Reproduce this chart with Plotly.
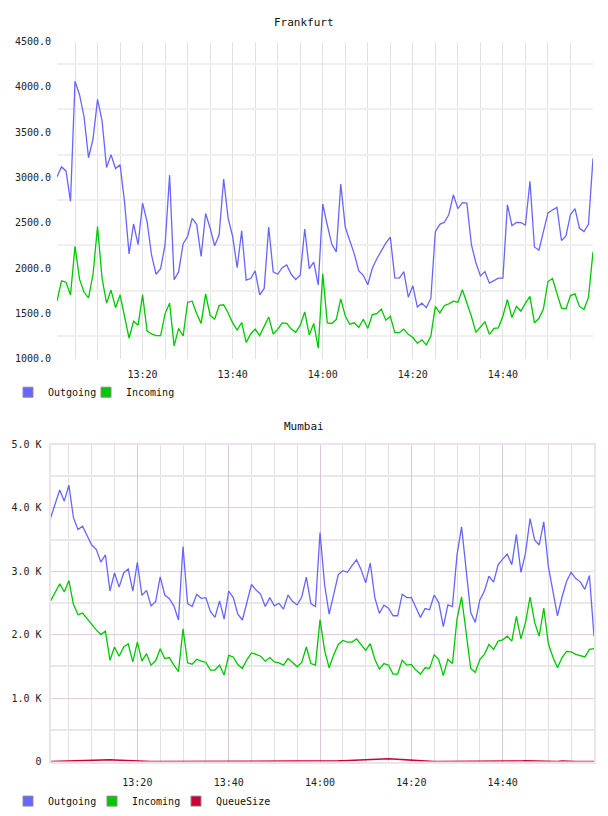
import pandas as pd
import plotly.graph_objects as go

# ---------------- data ----------------
START = "2024-01-01 13:01"
N_POINTS = 120  # one sample per minute, 13:01 .. 15:00

FRA_OUT = [3007, 3116, 3072, 2736, 4062, 3913, 3670, 3217, 3424, 3862,
           3627, 3109, 3250, 3098, 3141, 2728, 2156, 2486, 2257, 2717,
           2511, 2141, 1931, 1993, 2257, 3025, 1870, 1957, 2268, 2348,
           2547, 2482, 2127, 2602, 2439, 2246, 2366, 2982, 2547, 2348,
           2004, 2410, 1866, 1884, 1968, 1703, 1775, 2453, 1957, 1931,
           2004, 2033, 1931, 1873, 1920, 2431, 1993, 2065, 1812, 2705,
           2475, 2264, 2178, 2928, 2450, 2304, 2156, 1968, 1920, 1815,
           1997, 2102, 2192, 2275, 2341, 1891, 1888, 1960, 1678, 1805,
           1569, 1612, 1562, 1667, 2402, 2482, 2504, 2591, 2808, 2656,
           2721, 2717, 2257, 2058, 1913, 1960, 1833, 1859, 1888, 1888,
           2699, 2467, 2504, 2500, 2475, 2957, 2232, 2196, 2413, 2609,
           2641, 2670, 2304, 2355, 2591, 2656, 2439, 2402, 2482, 3210]

FRA_IN = [1634, 1859, 1844, 1703, 2239, 1877, 1732, 1670, 1931, 2457,
          1888, 1612, 1757, 1562, 1703, 1460, 1225, 1413, 1369, 1703,
          1304, 1272, 1254, 1254, 1497, 1612, 1141, 1333, 1250, 1623,
          1634, 1497, 1388, 1714, 1478, 1435, 1587, 1594, 1504, 1395,
          1315, 1399, 1178, 1272, 1326, 1254, 1359, 1460, 1272, 1322,
          1395, 1388, 1326, 1290, 1369, 1515, 1261, 1388, 1116, 1938,
          1395, 1388, 1431, 1660, 1471, 1380, 1395, 1344, 1435, 1333,
          1486, 1497, 1547, 1424, 1467, 1286, 1286, 1326, 1268, 1232,
          1170, 1207, 1152, 1250, 1576, 1504, 1587, 1605, 1634, 1623,
          1761, 1623, 1467, 1290, 1351, 1406, 1268, 1333, 1340, 1471,
          1652, 1453, 1576, 1525, 1612, 1688, 1395, 1442, 1551, 1851,
          1884, 1732, 1558, 1551, 1696, 1714, 1576, 1543, 1678, 2178]

MUM_OUT = [3842, 4065, 4284, 4107, 4361, 3847, 3660, 3712, 3562, 3416,
           3349, 3146, 3261, 2690, 2975, 2752, 2975, 3037, 2690, 3141,
           2622, 2700, 2456, 2523, 2913, 2627, 2570, 2456, 2233, 3390,
           2492, 2446, 2638, 2575, 2586, 2368, 2274, 2534, 2248, 2690,
           2586, 2326, 2233, 2523, 2793, 2705, 2638, 2446, 2586, 2456,
           2497, 2404, 2627, 2523, 2471, 2596, 2908, 2492, 2446, 3614,
           2793, 2326, 2648, 2949, 3011, 2985, 3089, 3183, 3027, 2819,
           3131, 2586, 2337, 2466, 2420, 2300, 2300, 2638, 2586, 2586,
           2430, 2274, 2414, 2394, 2627, 2508, 2129, 2471, 2446, 3261,
           3702, 3027, 2352, 2196, 2549, 2690, 2923, 2830, 3105, 3193,
           3271, 3105, 3583, 2985, 3287, 3832, 3494, 3416, 3780, 3079,
           2690, 2300, 2596, 2845, 2985, 2887, 2835, 2716, 2934, 1978]

MUM_IN = [2534, 2674, 2804, 2674, 2856, 2482, 2316, 2342, 2248, 2155,
          2077, 2004, 2056, 1599, 1807, 1662, 1807, 1859, 1573, 1885,
          1584, 1703, 1521, 1589, 1781, 1625, 1641, 1521, 1418, 2093,
          1558, 1537, 1615, 1584, 1563, 1444, 1444, 1521, 1366, 1677,
          1651, 1532, 1470, 1610, 1713, 1692, 1662, 1584, 1641, 1573,
          1558, 1521, 1625, 1563, 1496, 1563, 1807, 1547, 1521, 2240,
          1755, 1480, 1687, 1848, 1911, 1885, 1885, 1937, 1848, 1755,
          1859, 1615, 1459, 1547, 1521, 1381, 1381, 1599, 1521, 1532,
          1444, 1381, 1480, 1470, 1687, 1610, 1355, 1615, 1547, 2248,
          2596, 2014, 1470, 1408, 1610, 1692, 1848, 1770, 1900, 1921,
          1978, 1900, 2289, 1937, 2196, 2596, 2196, 1978, 2420, 1859,
          1651, 1480, 1641, 1739, 1729, 1692, 1677, 1651, 1770, 1781]

MUM_QUEUE = [0, 3, 6, 9, 12, 15, 18, 21, 24, 26, 28, 29, 30, 29, 26, 22, 16, 10, 5, 2,
             0, 0, 0, 0, 0, 0, 0, 0, 0, 0, 0, 0, 0, 0, 0, 0, 0, 0, 0, 0,
             0, 0, 0, 0, 0, 0, 0, 0, 0, 0, 0, 0, 0, 0, 0, 0, 0, 0, 0,
             0, 2, 5, 8, 11, 14, 18, 21, 25, 28, 31, 34, 37, 40, 43,
             45, 41, 36, 30, 24, 18, 12, 7, 3, 0,
             0, 0, 0, 0, 0, 0, 0, 0, 0, 0, 0, 0, 0, 0, 0, 0, 0,
             2, 6, 10, 12, 10, 6, 2,
             0, 0, 0,
             3, 8, 10, 8, 3, 0,
             0, 0, 0]

TIME_TICKS = ["2024-01-01 13:20", "2024-01-01 13:40", "2024-01-01 14:00",
              "2024-01-01 14:20", "2024-01-01 14:40"]
TIME_TICK_TEXT = ["13:20", "13:40", "14:00", "14:20", "14:40"]
FRA_YTICKS = [1000, 1500, 2000, 2500, 3000, 3500, 4000, 4500]
FRA_YTEXT = ["1000.0", "1500.0", "2000.0", "2500.0", "3000.0", "3500.0", "4000.0", "4500.0"]
MUM_YTICKS = [0, 1000, 2000, 3000, 4000, 5000]
MUM_YTEXT = ["0", "1.0 K", "2.0 K", "3.0 K", "4.0 K", "5.0 K"]

SERIES_NAMES = ["Outgoing", "Incoming", "QueueSize"]

# ---------------- styles ----------------
BLUE = "#6666ff"
GREEN = "#00c800"
RED = "#cc0033"
FONT = "DejaVu Sans Mono"
W, H = 608, 816

times = pd.date_range(START, periods=N_POINTS, freq="min")

fig = go.Figure()

# Frankfurt
fig.add_trace(go.Scatter(x=times, y=FRA_OUT, mode="lines", line=dict(color=BLUE, width=1.3),
                         xaxis="x", yaxis="y", showlegend=False))
fig.add_trace(go.Scatter(x=times, y=FRA_IN, mode="lines", line=dict(color=GREEN, width=1.3),
                         xaxis="x", yaxis="y", showlegend=False))
# Mumbai
fig.add_trace(go.Scatter(x=times, y=MUM_OUT, mode="lines", line=dict(color=BLUE, width=1.3),
                         xaxis="x2", yaxis="y2", showlegend=False))
fig.add_trace(go.Scatter(x=times, y=MUM_IN, mode="lines", line=dict(color=GREEN, width=1.3),
                         xaxis="x2", yaxis="y2", showlegend=False))
fig.add_trace(go.Scatter(x=times, y=MUM_QUEUE, mode="lines", line=dict(color=RED, width=1.6),
                         xaxis="x2", yaxis="y2", showlegend=False))


# legend entries (square swatches)
def swatch(name, color, legend, visible_marker=True):
    two = legend == "legend2"
    return go.Scatter(x=[None], y=[None], mode="markers", name=name,
                      marker=dict(symbol="square", size=10, color=color,
                                  line=dict(color="#8c8c8c" if visible_marker else "rgba(0,0,0,0)",
                                            width=1)),
                      legend=legend, xaxis="x2" if two else "x", yaxis="y2" if two else "y",
                      hoverinfo="skip")


fig.add_trace(swatch(SERIES_NAMES[0], BLUE, "legend"))
fig.add_trace(swatch(SERIES_NAMES[1], GREEN, "legend"))
fig.add_trace(swatch(" ", "rgba(0,0,0,0)", "legend", False))  # spacer so the last label is not clipped
fig.add_trace(swatch(SERIES_NAMES[0], BLUE, "legend2"))
fig.add_trace(swatch(SERIES_NAMES[1], GREEN, "legend2"))
fig.add_trace(swatch(SERIES_NAMES[2], RED, "legend2"))
fig.add_trace(swatch(" ", "rgba(0,0,0,0)", "legend2", False))

x_range = [times[0], times[-1]]
tick_font = dict(family=FONT, size=10, color="#222222")

fig.update_layout(
    width=W, height=H,
    margin=dict(l=0, r=0, t=0, b=0),
    paper_bgcolor="white", plot_bgcolor="white",
    font=dict(family=FONT, size=10, color="#111111"),
    xaxis=dict(domain=[57 / W, 593 / W], anchor="y", type="date", range=x_range,
               tickmode="array", tickvals=TIME_TICKS, ticktext=TIME_TICK_TEXT,
               showgrid=True, gridcolor="#e2e2e2", gridwidth=1,
               minor=dict(dtick=300000, tick0="2024-01-01 13:00", showgrid=True,
                          gridcolor="#e2e2e2", gridwidth=1),
               showline=False, zeroline=False, ticks="", ticklabelstandoff=8,
               tickfont=tick_font, fixedrange=True),
    yaxis=dict(domain=[1 - 358 / H, 1 - 37 / H], anchor="x", range=[1000, 4500],
               tickmode="array", tickvals=FRA_YTICKS, ticktext=FRA_YTEXT,
               showgrid=False,
               minor=dict(tick0=1250, dtick=500, showgrid=True, gridcolor="#efefef", gridwidth=2),
               showline=False, zeroline=False, ticks="", ticklabelstandoff=5,
               tickfont=tick_font, fixedrange=True),
    xaxis2=dict(domain=[50.6 / W, 594 / W], anchor="y2", type="date", range=x_range,
                tickmode="array", tickvals=TIME_TICKS, ticktext=TIME_TICK_TEXT,
                showgrid=True, gridcolor="#dcc6dc", gridwidth=1,
                minor=dict(dtick=300000, tick0="2024-01-01 13:00", showgrid=True,
                           gridcolor="#e4e0e4", gridwidth=1),
                showline=True, mirror=True, linecolor="#efe2ef", linewidth=2,
                zeroline=False, ticks="", ticklabelstandoff=10,
                tickfont=tick_font, fixedrange=True),
    yaxis2=dict(domain=[1 - 766 / H, 1 - 445 / H], anchor="x2", range=[0, 5000],
                tickmode="array", tickvals=MUM_YTICKS, ticktext=MUM_YTEXT,
                showgrid=True, gridcolor="#e4cce4", gridwidth=1,
                minor=dict(tick0=500, dtick=1000, showgrid=True, gridcolor="#e8e8e8", gridwidth=1.5),
                showline=True, mirror=True, linecolor="#efe2ef", linewidth=2,
                zeroline=False, ticks="", ticklabelstandoff=5,
                tickfont=tick_font, fixedrange=True),
    legend=dict(orientation="h", x=8 / W, xanchor="left", y=1 - 392 / H, yanchor="middle",
                font=dict(family=FONT, size=10, color="#111111"),
                entrywidth=33, entrywidthmode="pixels", bgcolor="rgba(0,0,0,0)",
                itemclick=False, itemdoubleclick=False),
    legend2=dict(orientation="h", x=8 / W, xanchor="left", y=1 - 806 / H, yanchor="middle",
                 font=dict(family=FONT, size=10, color="#111111"),
                 entrywidth=39, entrywidthmode="pixels", bgcolor="rgba(0,0,0,0)",
                 itemclick=False, itemdoubleclick=False),
    annotations=[
        dict(text="Frankfurt", x=0.5, xref="paper", y=1 - 18 / H, yref="paper",
             showarrow=False, xanchor="center", yanchor="middle",
             font=dict(family=FONT, size=11, color="#111111")),
        dict(text="Mumbai", x=0.5, xref="paper", y=1 - 427 / H, yref="paper",
             showarrow=False, xanchor="center", yanchor="middle",
             font=dict(family=FONT, size=11, color="#111111")),
    ],
)

fig.write_html("out.html")
